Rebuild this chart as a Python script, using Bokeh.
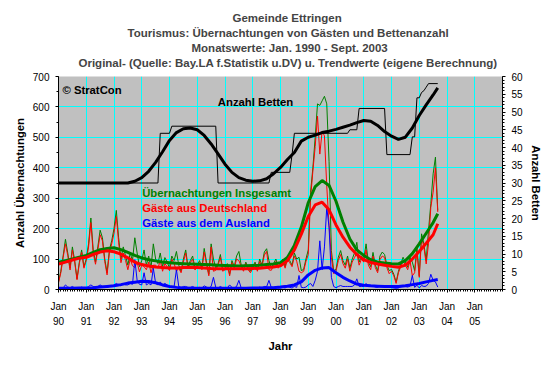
import math
from bokeh.plotting import figure
from bokeh.models import Range1d, LinearAxis, FixedTicker, SingleIntervalTicker, Label, Title
from bokeh.embed import file_html
from bokeh.resources import INLINE

# ---------------- data ----------------
title_lines = ["Gemeinde Ettringen",
               "Tourismus: Übernachtungen von Gästen und Bettenanzahl",
               "Monatswerte: Jan. 1990 - Sept. 2003",
               "Original- (Quelle: Bay.LA f.Statistik u.DV) u. Trendwerte (eigene Berechnung)"]
year_labels = ["90", "91", "92", "93", "94", "95", "96", "97", "98", "99",
               "00", "01", "02", "03", "04", "05"]

# monthly values Jan 1990 .. Sep 2003 (Übernachtungen)
insgesamt = [
    25, 60, 110, 165, 120, 70, 140, 95, 35, 90, 130, 75,
    100, 150, 235, 130, 90, 140, 195, 170, 100, 55, 130, 160,
    200, 260, 170, 100, 140, 110, 80, 120, 95, 170, 120, 75,
    95, 130, 80, 110, 70, 150, 100, 85, 120, 75, 105, 90,
    70, 110, 95, 125, 80, 60, 100, 130, 75, 95, 110, 70,
    80, 95, 70, 135, 90, 50, 150, 100, 70, 85, 115, 65,
    70, 85, 50, 95, 75, 110, 125, 80, 65, 90, 70, 60,
    75, 90, 65, 100, 80, 123, 134, 95, 70, 85, 100, 75,
    85, 100, 75, 110, 95, 80, 120, 100, 106, 62, 66, 100,
    130, 320, 400, 500, 610, 605, 620, 635, 610, 420, 128, 62,
    66, 106, 128, 95, 80, 110, 70, 100, 120, 155, 90, 110,
    100, 150, 90, 75, 122, 80, 62, 110, 123, 115, 80, 62,
    66, 50, 24, 60, 84, 106, 90, 73, 106, 90, 62, 139,
    45, 183, 150, 95, 194, 282, 380, 435, 260,
]
deutschland = [
    22, 55, 105, 150, 112, 64, 130, 90, 32, 85, 122, 70,
    95, 140, 220, 120, 83, 130, 180, 160, 92, 48, 120, 150,
    185, 240, 155, 88, 120, 95, 65, 100, 78, 72, 90, 58,
    80, 75, 65, 90, 55, 80, 80, 70, 95, 60, 85, 75,
    62, 100, 85, 60, 70, 55, 90, 120, 68, 88, 100, 64,
    75, 88, 65, 123, 82, 45, 140, 60, 63, 80, 105, 60,
    65, 80, 45, 88, 70, 100, 95, 75, 60, 85, 65, 55,
    70, 85, 60, 92, 75, 113, 125, 65, 63, 78, 92, 70,
    80, 93, 70, 100, 88, 75, 110, 93, 60, 55, 60, 92,
    115, 300, 390, 470, 570, 445, 520, 505, 340, 210, 106, 52,
    60, 95, 115, 85, 70, 100, 60, 90, 105, 120, 80, 100,
    90, 130, 80, 65, 110, 72, 55, 98, 110, 105, 72, 52,
    60, 45, 20, 55, 75, 95, 80, 65, 95, 45, 55, 125,
    40, 170, 140, 84, 150, 270, 320, 400, 255,
]
ausland = [
    3, 5, 5, 15, 8, 6, 10, 5, 3, 5, 8, 5,
    5, 10, 15, 10, 7, 10, 15, 10, 8, 7, 10, 10,
    15, 20, 15, 12, 20, 15, 15, 20, 17, 98, 30, 17,
    15, 55, 15, 20, 15, 70, 20, 15, 25, 15, 20, 15,
    8, 10, 10, 65, 10, 5, 10, 10, 7, 7, 10, 6,
    5, 7, 5, 12, 8, 5, 10, 40, 7, 5, 10, 5,
    5, 5, 15, 7, 5, 10, 30, 5, 5, 5, 5, 5,
    5, 5, 5, 8, 5, 10, 9, 30, 7, 7, 8, 5,
    5, 7, 5, 10, 7, 5, 10, 7, 46, 7, 6, 8,
    15, 20, 10, 30, 60, 160, 65, 140, 270, 205, 40, 10,
    6, 10, 13, 10, 10, 10, 10, 10, 15, 35, 10, 10,
    10, 20, 10, 10, 12, 8, 7, 12, 13, 10, 8, 10,
    6, 5, 4, 5, 9, 11, 10, 8, 11, 46, 7, 14,
    5, 13, 10, 11, 20, 50, 30, 25, 8,
]

# trend values (quarterly months since Jan 1990)
trend_month = [0, 3, 6, 9, 12, 15, 18, 21, 24, 27, 30, 33, 36, 39, 42, 45, 48, 51,
               54, 57, 60, 63, 66, 69, 72, 75, 78, 81, 84, 87, 90, 93, 96, 99, 102,
               105, 108, 111, 114, 117, 120, 123, 126, 129, 132, 135, 138, 141, 144,
               147, 150, 153, 156, 159, 162, 164]
trend_insgesamt = [90, 95, 100, 106, 112, 122, 131, 135, 137, 131, 122, 112, 104, 98,
                   94, 90, 88, 86, 85, 84, 83, 82, 81, 80, 79, 78, 77, 78, 79, 80, 82,
                   84, 88, 105, 145, 205, 285, 338, 358, 342, 290, 222, 166, 130, 112,
                   98, 90, 87, 85, 84, 95, 118, 150, 185, 220, 249]
trend_deutschland = [84, 90, 97, 103, 106, 115, 123, 127, 124, 116, 104, 90, 82, 77,
                     74, 72, 71, 71, 72, 72, 72, 71, 69, 68, 68, 68, 68, 68, 69, 70, 72,
                     74, 78, 95, 130, 182, 240, 278, 287, 262, 212, 172, 139, 115, 98,
                     89, 84, 80, 76, 73, 80, 100, 125, 152, 180, 216]
trend_ausland = [4, 4, 4, 5, 5, 6, 8, 10, 12, 16, 21, 24, 27, 26, 22, 15, 10, 7, 5, 4,
                 4, 4, 4, 4, 4, 4, 4, 4, 5, 5, 6, 6, 8, 11, 15, 25, 48, 63, 71, 72, 55,
                 40, 28, 18, 14, 12, 11, 10, 10, 10, 12, 16, 20, 25, 30, 33]
trend_betten = [30, 30, 30, 30, 30, 30, 30, 30, 30, 30, 30, 30.5, 31.5, 33.3, 35.8,
                38.8, 42.0, 44.2, 45.3, 45.5, 45.0, 43.4, 41.0, 38.2, 35.3, 33.0, 31.5,
                30.8, 30.5, 30.6, 31.2, 32.6, 34.4, 36.6, 38.6, 41.8, 42.9, 43.5, 44.2,
                44.6, 45.1, 45.7, 46.3, 47.0, 47.6, 47.4, 46.2, 44.5, 43.2, 42.3, 42.9,
                45.5, 49.0, 52.0, 54.8, 56.8]

# Anzahl Betten (monthly step values, given at change points)
betten_month = [0, 43, 44, 48, 49, 68, 69, 91, 92, 100, 101, 102, 125, 126, 129, 130,
                141, 142, 152, 153, 154, 155, 156, 157, 158, 159, 160, 164]
betten_value = [30, 30, 44, 44, 46, 46, 30, 30, 33, 33, 38, 44, 44, 45, 45, 51,
                51, 38, 38, 43, 43, 54, 54, 55.5, 56, 57, 58, 58]

month = list(range(len(insgesamt)))

FONT = "Liberation Sans"
GREEN, RED, BLUE = "#008000", "#FF0000", "#0000FF"
LABEL_SIZE = "11.3px"

p = figure(width=544, height=358, x_range=Range1d(0, 192), y_range=Range1d(0, 700),
           output_backend="svg", toolbar_location=None,
           background_fill_color="#C0C0C0", border_fill_color="white",
           outline_line_color=None,
           min_border_left=58, min_border_right=40, min_border_top=76, min_border_bottom=69)
p.extra_y_ranges = {"betten": Range1d(0, 60)}

# title: four lines (outermost line is the figure's own title); offsets place
# each line's left edge as in the original
title_offsets = [174, 69, 133, 20]

def style_title(t, offset, size="11.5px", standoff=0.7):
    t.align = "left"
    t.text_font = FONT
    t.text_font_size = size
    t.text_font_style = "bold"
    t.standoff = standoff
    t.offset = offset

p.title.text = title_lines[0]
style_title(p.title, title_offsets[0])
spacer = Title(text=" ")
style_title(spacer, 0, size="4px", standoff=0)
p.add_layout(spacer, "above")
for i in (3, 2, 1):
    t = Title(text=title_lines[i])
    style_title(t, title_offsets[i])
    p.add_layout(t, "above")

# x axis
year_ticks = [12 * i for i in range(len(year_labels))]
xa = p.xaxis[0]
xa.ticker = FixedTicker(ticks=year_ticks, minor_ticks=list(range(0, 193)))
xa.major_label_overrides = {t: "Jan\n" + y for t, y in zip(year_ticks, year_labels)}
xa.major_label_text_line_height = 1.4
xa.axis_label = "Jahr"

ya = p.yaxis[0]
ya.ticker = SingleIntervalTicker(interval=100, num_minor_ticks=2)
ya.axis_label = "Anzahl Übernachtungen"

ra = LinearAxis(y_range_name="betten", ticker=SingleIntervalTicker(interval=5, num_minor_ticks=5),
                axis_label="Anzahl Betten")
p.add_layout(ra, "right")

for ax in (xa, ya, ra):
    ax.axis_line_color = "black"
    ax.major_tick_line_color = "black"
    ax.minor_tick_line_color = "black"
    ax.major_tick_in = 0
    ax.major_tick_out = 3
    ax.minor_tick_in = 0
    ax.minor_tick_out = 2
    ax.major_label_text_font = FONT
    ax.major_label_text_font_size = "10px"
    ax.major_label_text_color = "black"
    ax.axis_label_text_font = FONT
    ax.axis_label_text_font_size = LABEL_SIZE
    ax.axis_label_text_font_style = "bold"
    ax.axis_label_text_color = "black"
xa.major_label_standoff = 8
xa.axis_label_standoff = 10
ya.major_label_standoff = 6
ya.axis_label_standoff = 4
ra.major_label_standoff = 6
ra.axis_label_standoff = 4

p.xgrid.ticker = FixedTicker(ticks=year_ticks)
p.ygrid.ticker = FixedTicker(ticks=[100, 200, 300, 400, 500, 600])
for g in (p.xgrid, p.ygrid):
    g.grid_line_color = "#00FFFF"
    g.grid_line_width = 1

# raw series
p.line(month, insgesamt, line_color=GREEN, line_width=1)
p.line(month, deutschland, line_color=RED, line_width=1)
p.line(month, ausland, line_color=BLUE, line_width=1)
# trends
p.line(trend_month, trend_insgesamt, line_color=GREEN, line_width=3)
p.line(trend_month, trend_deutschland, line_color=RED, line_width=3)
p.line(trend_month, trend_ausland, line_color=BLUE, line_width=3)
# beds
p.line(betten_month, betten_value, line_color="black", line_width=1, y_range_name="betten")
p.line(trend_month, trend_betten, line_color="black", line_width=3, y_range_name="betten")

def lab(x, y, text, color):
    p.add_layout(Label(x=x, y=y, text=text, text_color=color, text_font=FONT,
                       text_font_size=LABEL_SIZE, text_font_style="bold",
                       text_baseline="middle", text_align="left"))

lab(1.7, 657, "© StratCon", "black")
lab(68.9, 616, "Anzahl Betten", "black")
lab(36.2, 317, "Übernachtungen Insgesamt", GREEN)
lab(36.2, 268, "Gäste aus Deutschland", RED)
lab(36.2, 217, "Gäste aus dem Ausland", BLUE)

open("out.html", "w").write(file_html(p, INLINE))
